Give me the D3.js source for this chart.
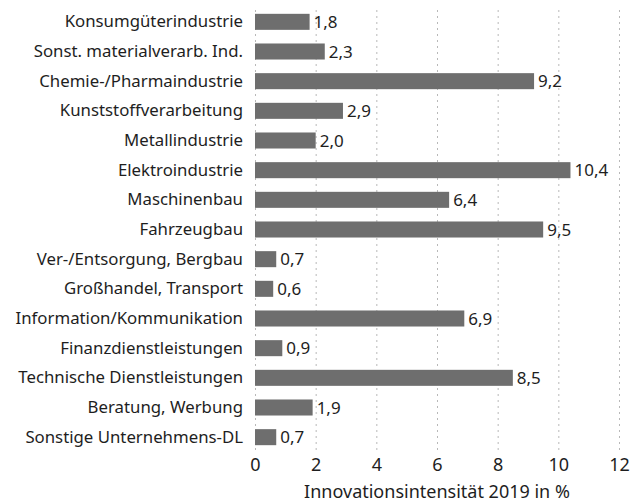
<!DOCTYPE html>
<html lang="de">
<head>
<meta charset="UTF-8">
<title>Innovationsintensität 2019</title>
<style>
body { margin: 0; background: #fff; }
svg text { font-family: "Noto Sans", "Open Sans", sans-serif; fill: #1e1e1e; }
.grid line { stroke: #b8b8b8; stroke-width: 1; stroke-dasharray: 2 4; }
.bar { fill: #6e6e6e; }
</style>
</head>
<body>
<svg width="639" height="504"></svg>
<script src="https://d3js.org/d3.v7.min.js"></script>
<script>

// branches, top to bottom
const categories = [
    'Konsumgüterindustrie',
    'Sonst. materialverarb. Ind.',
    'Chemie-/Pharmaindustrie',
    'Kunststoffverarbeitung',
    'Metallindustrie',
    'Elektroindustrie',
    'Maschinenbau',
    'Fahrzeugbau',
    'Ver-/Entsorgung, Bergbau',
    'Großhandel, Transport',
    'Information/Kommunikation',
    'Finanzdienstleistungen',
    'Technische Dienstleistungen',
    'Beratung, Werbung',
    'Sonstige Unternehmens-DL'
];

// Innovationsintensität 2019 in %
const values = [1.8, 2.3, 9.2, 2.9, 2.0, 10.4, 6.4, 9.5, 0.7, 0.6, 6.9, 0.9, 8.5, 1.9, 0.7];

const xTicks = [0, 2, 4, 6, 8, 10, 12];
const axisTitle = 'Innovationsintensität 2019 in %';

const svg = d3.select('svg');

const margin = { top: 7, left: 255 };
const plotRight = 619;
const plotBottom = 452;

const x = d3.scaleLinear().domain([0, 12]).range([margin.left, plotRight]);
const y = d3.scaleBand()
    .domain(categories)
    .range([margin.top, plotBottom])
    .paddingInner(0.46)
    .paddingOuter(0.23);

const comma = v => d3.format('.1f')(v).replace('.', ',');

// dotted vertical grid
svg.append('g')
    .attr('class', 'grid')
    .selectAll('line')
    .data(xTicks)
    .join('line')
    .attr('x1', d => x(d) + 0.5)
    .attr('x2', d => x(d) + 0.5)
    .attr('y1', 10)
    .attr('y2', plotBottom);

// bars
svg.append('g')
    .selectAll('rect')
    .data(categories)
    .join('rect')
    .attr('class', 'bar')
    .attr('x', x(0))
    .attr('y', d => y(d))
    .attr('width', (d, i) => x(values[i]) - x(0))
    .attr('height', y.bandwidth());

// value labels
svg.append('g')
    .selectAll('text')
    .data(categories)
    .join('text')
    .attr('x', (d, i) => x(values[i]) + 4)
    .attr('y', d => y(d) + y.bandwidth() / 2)
    .attr('dy', '0.36em')
    .style('font-size', '17px')
    .text((d, i) => comma(values[i]));

// category labels
const yAxis = svg.append('g')
    .attr('transform', `translate(${margin.left},0)`)
    .call(d3.axisLeft(y).tickSize(0).tickPadding(12));
yAxis.select('.domain').remove();
yAxis.selectAll('text')
    .style('font-size', '16.8px')
    .attr('fill', '#1e1e1e');

// x axis tick labels
const xAxis = svg.append('g')
    .attr('transform', `translate(0,${plotBottom})`)
    .call(d3.axisBottom(x).tickValues(xTicks).tickSize(0).tickPadding(6).tickFormat(d3.format('d')));
xAxis.select('.domain').remove();
xAxis.selectAll('text')
    .style('font-size', '18px')
    .attr('fill', '#1e1e1e');

svg.append('text')
    .attr('x', (margin.left + plotRight) / 2)
    .attr('y', 498)
    .attr('text-anchor', 'middle')
    .style('font-size', '18px')
    .text(axisTitle);

</script>
</body>
</html>
